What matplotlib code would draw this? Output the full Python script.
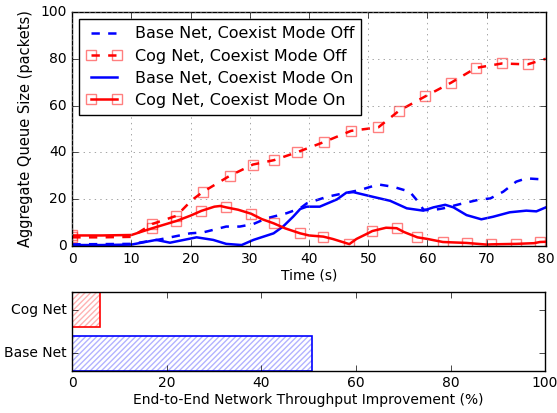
import numpy as np
import matplotlib
matplotlib.use("Agg")
import matplotlib.pyplot as plt

# queue size traces (time in s, queue in packets)
base_off_t = [0, 5, 10, 14.8, 19.9, 22.1, 26, 28.3, 30.6, 32.8, 36.2, 38.5, 39.6, 43, 45.8, 48.6,
              51.7, 54.2, 57, 58.2, 59.3, 60.4, 62.7, 65.5, 68.9, 70.6, 72.8, 75, 76.7, 79.8]
base_off_q = [0.7, 0.8, 0.9, 2.8, 5.4, 5.8, 8.3, 8.3, 9.4, 11.8, 14, 16.1, 18.2, 21, 22.5, 23.9,
              26.3, 25.3, 23.2, 19.6, 15.6, 15.1, 16.1, 17.9, 19.9, 20.3, 23.2, 27.5, 28.9, 28.4]

base_on_t = [0, 5, 10, 14.2, 16.5, 21, 23.8, 26, 28.6, 30.6, 34, 35.6, 37.3, 38.5, 39.6, 41.8,
             44.7, 46.3, 47.5, 50.8, 53.7, 56.5, 59.3, 61, 63, 64.4, 66.6, 69.1, 71.1, 73.9,
             76.7, 78.4, 80]
base_on_q = [0.4, 0.4, 0.6, 2.6, 1.4, 3.7, 2.6, 0.9, 0.4, 2.6, 5.4, 8.3, 12.5, 15.8, 16.8, 16.8,
             19.9, 22.8, 23, 21, 19.3, 16.1, 15.1, 16.5, 17.6, 16.5, 13.2, 11.4, 12.5, 14.4,
             15.1, 14.8, 16.5]

cog_off_t = [0, 5, 10, 13.5, 17.6, 20.2, 22, 26.6, 30.5, 34.1, 37.9, 42.5, 47.1, 51.7, 55.2,
             59.6, 64, 68.2, 72.6, 76.9, 80]
cog_off_q = [3.7, 3.7, 3.9, 9.4, 12.9, 19.6, 23, 30, 34.8, 36.7, 40, 44.4, 49.2, 50.7, 57.8,
             63.9, 69.8, 76.1, 78, 77.6, 80]
cog_off_marks = [0, 3, 4, 6, 7, 8, 9, 10, 11, 12, 13, 14, 15, 16, 17, 18, 19]

cog_on_t = [0, 5, 10, 13.4, 17.6, 20, 21.8, 24, 25, 26, 28, 30.2, 32, 34, 36, 38.5, 40, 42.4,
            44, 46.8, 48, 50, 50.7, 53, 54.8, 56, 58.3, 60, 62.6, 66.6, 70, 70.8, 75, 78, 79, 80]
cog_on_q = [4.5, 4.5, 4.7, 7.5, 10.7, 13, 15, 16.8, 17.1, 16.5, 15.5, 13.8, 11.5, 9.7, 7.5, 5.4,
            4.5, 4, 3, 0.8, 3, 5.5, 6.4, 7.8, 7.6, 6, 3.7, 3, 1.7, 1.3, 0.6, 0.7, 0.9, 1.2, 1.7, 1.8]
cog_on_marks = [0, 3, 4, 6, 9, 11, 13, 15, 17, 19, 22, 24, 26, 28, 29, 31, 32, 34]

# throughput improvement (%)
nets = ["Base Net", "Cog Net"]
improvement = [50.6, 5.9]

plt.style.use("classic")
plt.rcParams["font.family"] = "DejaVu Sans"
plt.rcParams["font.size"] = 10

fig = plt.figure(figsize=(5.57, 4.13), dpi=100, facecolor="white")
ax = fig.add_axes([0.1298, 0.4044, 0.8502, 0.5666])
ax2 = fig.add_axes([0.1298, 0.1025, 0.8488, 0.1898])

mk = dict(marker="s", markersize=6.5, markerfacecolor="none",
          markeredgecolor=(1, 0, 0, 0.5), markeredgewidth=1)
ax.plot(base_off_t, base_off_q, "b--", lw=1.8, label="Base Net, Coexist Mode Off")
ax.plot(cog_off_t, cog_off_q, "r--", lw=1.8, markevery=cog_off_marks, label="Cog Net, Coexist Mode Off", **mk)
ax.plot(base_on_t, base_on_q, "b-", lw=1.8, label="Base Net, Coexist Mode On")
ax.plot(cog_on_t, cog_on_q, "r-", lw=1.8, markevery=cog_on_marks, label="Cog Net, Coexist Mode On", **mk)

ax.set_xlim(0, 80)
ax.set_ylim(0, 100)
ax.set_xticks(np.arange(0, 81, 10))
ax.set_yticks(np.arange(0, 101, 20))
ax.grid(True, linestyle=":", color="0.5")
ax.set_xlabel("Time (s)", labelpad=2)
ax.set_ylabel("Aggregate Queue Size (packets)", fontsize=10.5)
ax.legend(loc="upper left", fontsize=11.5, numpoints=2, handlelength=2.2,
          borderaxespad=0.45, labelspacing=0.45, handletextpad=0.8, borderpad=0.45)

# hatched bars: pale hatch, solid outline
colors = ["b", "r"]
pale = [(0, 0, 1, 0.3), (1, 0, 0, 0.3)]
for i, (n, v) in enumerate(zip(nets, improvement)):
    ax2.barh(i, v, height=0.8, color="none", edgecolor=pale[i], hatch="//////", linewidth=0)
    ax2.barh(i, v, height=0.8, color="none", edgecolor=colors[i], linewidth=1.2)
ax2.set_yticks([0, 1])
ax2.set_yticklabels(nets)
ax2.set_ylim(-0.4, 1.4)
ax2.set_xlim(0, 100)
ax2.set_xticks(np.arange(0, 101, 20))
ax2.set_xlabel("End-to-End Network Throughput Improvement (%)", labelpad=2)

fig.savefig("out.png", dpi=100, facecolor="white")
